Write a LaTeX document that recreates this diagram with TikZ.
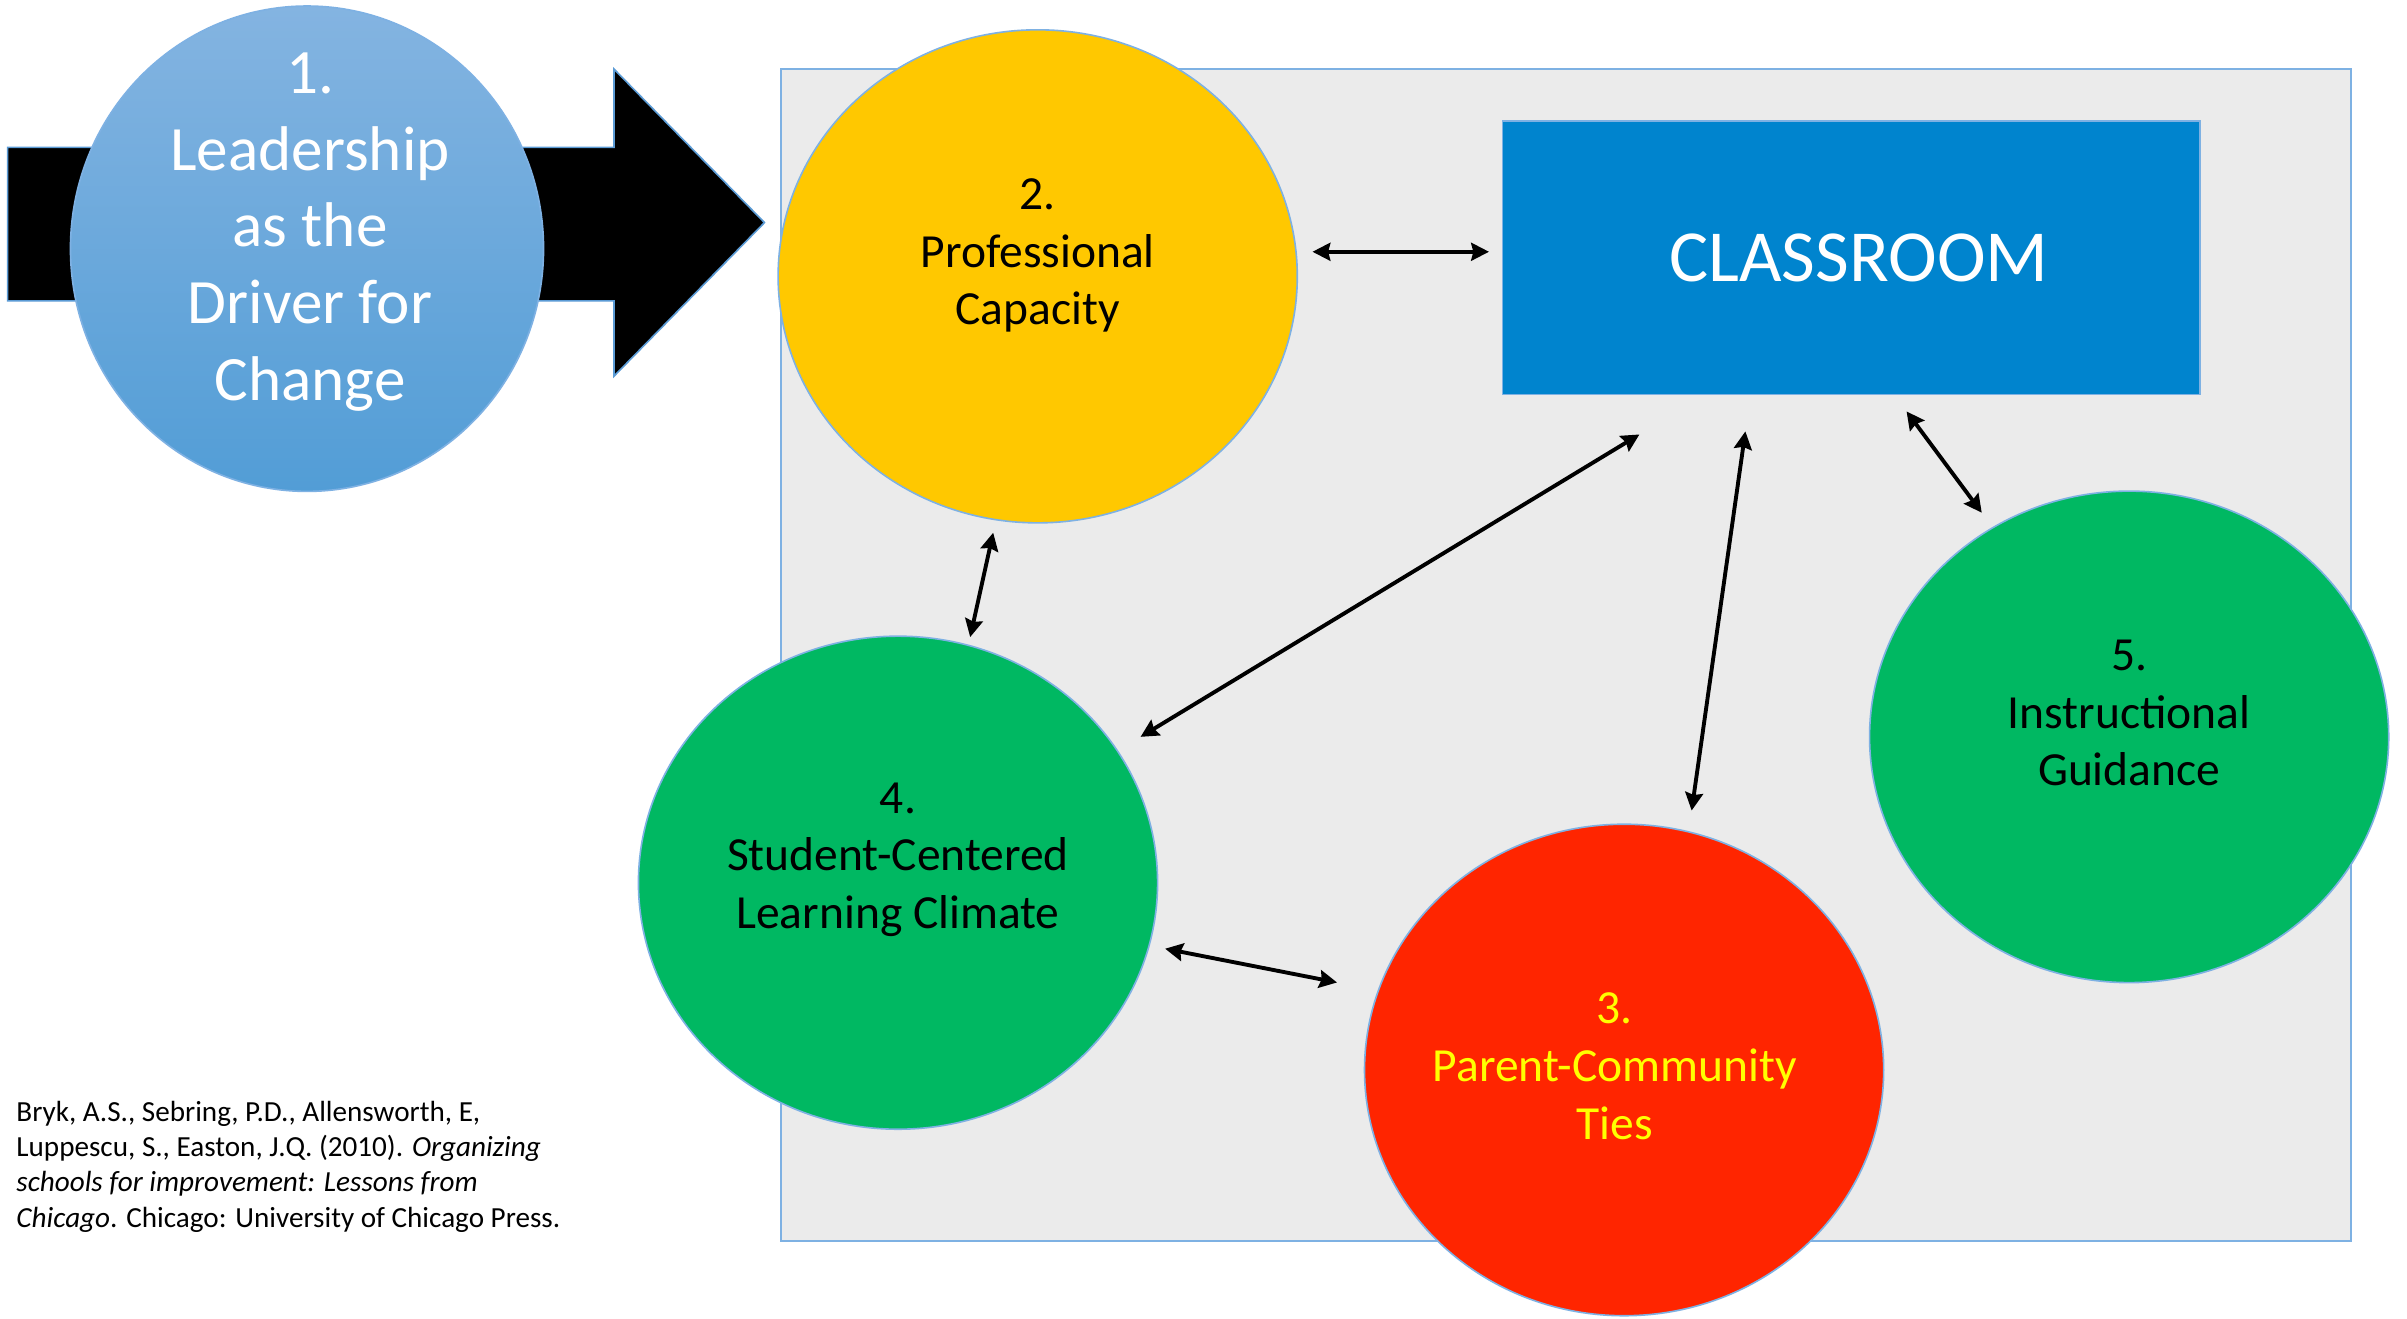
\documentclass[tikz,border=0pt]{standalone}
\usepackage{fontspec}
\setmainfont{Carlito}
\usetikzlibrary{shapes.geometric,arrows.meta}
\definecolor{boxgrey}{HTML}{EBEBEB}
\definecolor{edgeblue}{HTML}{7EB1E3}
\definecolor{classblue}{HTML}{0084CE}
\definecolor{capyellow}{HTML}{FFC800}
\definecolor{climgreen}{HTML}{00B862}
\definecolor{tiesred}{HTML}{FF2500}
\definecolor{tiestext}{HTML}{FFFF00}
\definecolor{leadtop}{HTML}{84B4E1}
\definecolor{leadbot}{HTML}{529DD6}
\definecolor{arrowedge}{HTML}{5B9BD5}
\tikzset{
  bub/.style={ellipse, draw=edgeblue, line width=0.3pt, inner sep=0pt},
  bubtext/.style={align=center, inner sep=0pt, font=\fontsize{8.8}{10.7}\selectfont},
  link/.style={{Stealth[length=3.3pt,width=3.3pt,inset=0.4pt]}-{Stealth[length=3.3pt,width=3.3pt,inset=0.4pt]}, line width=0.72pt, black},
}
\begin{document}
\begin{tikzpicture}[x=0.01cm,y=-0.01cm]
\useasboundingbox (0,0) rectangle (1568,859);
\fill[white] (0,0) rectangle (1568,859);

% big arrow
\filldraw[fill=black, draw=arrowedge, line width=0.3pt]
  (5,96) -- (400,96) -- (400,45) -- (498,145) -- (400,245) -- (400,196) -- (5,196) -- cycle;

% leadership circle
\node[bub, top color=leadtop, bottom color=leadbot, minimum width=3.08cm, minimum height=3.16cm] (lead) at (200,162) {};
\node[align=center, inner sep=0pt, text=white, font=\fontsize{11.7}{14.2}\selectfont] (leadt) at (202,151) {1.\\Leadership\\as the\\Driver for\\Change};

% grey frame
\node[draw=edgeblue, fill=boxgrey, line width=0.4pt, inner sep=0pt, minimum width=10.22cm, minimum height=7.63cm] (frame) at (1020,426.5) {};

% classroom
\node[fill=classblue, draw=edgeblue, line width=0.3pt, inner sep=0pt, minimum width=4.54cm, minimum height=1.78cm, text=white, font=\fontsize{13.6}{16}\selectfont] (class) at (1206,168) {\hspace*{0.1cm}CLASSROOM};

% bubbles
\node[bub, fill=capyellow, minimum width=3.38cm, minimum height=3.21cm] (prof) at (676,180) {};
\node[bubtext] (proft) at (676,166.5) {2.\\Professional\\Capacity};

\node[bub, fill=climgreen, minimum width=3.38cm, minimum height=3.21cm] (clim) at (585,575) {};
\node[bubtext] (climt) at (585,560) {4.\\Student-Centered\\Learning Climate};

\node[bub, fill=tiesred, minimum width=3.38cm, minimum height=3.20cm] (ties) at (1058,697) {};
\node[bubtext, text=tiestext] (tiest) at (1052,694.5) {3.\\Parent-Community\\Ties};

\node[bub, fill=climgreen, minimum width=3.38cm, minimum height=3.20cm] (guide) at (1387,480) {};
\node[bubtext] (guidet) at (1387,464.5) {5.\\Instructional\\Guidance};

% connector end points
\coordinate (a1) at (855,164);  \coordinate (a2) at (970,164);
\coordinate (b1) at (647,347);  \coordinate (b2) at (632,415);
\coordinate (c1) at (1068,283); \coordinate (c2) at (743,480);
\coordinate (d1) at (1137,281); \coordinate (d2) at (1102,528);
\coordinate (e1) at (1242,268); \coordinate (e2) at (1291,334);
\coordinate (f1) at (759,618);  \coordinate (f2) at (871,640);

\draw[link] (a1) -- (a2);
\draw[link] (b1) -- (b2);
\draw[link] (c1) -- (c2);
\draw[link] (d1) -- (d2);
\draw[link] (e1) -- (e2);
\draw[link] (f1) -- (f2);

% citation
\node[anchor=west, align=left, inner sep=0pt, font=\fontsize{5.4}{6.55}\selectfont] (cite) at (10,760)
 {Bryk, A.S., Sebring, P.D., Allensworth, E,\\
  Luppescu, S., Easton, J.Q. (2010). \textit{Organizing}\\
  \textit{schools for improvement: Lessons from}\\
  \textit{Chicago}. Chicago: University of Chicago Press.};
\end{tikzpicture}
\end{document}
